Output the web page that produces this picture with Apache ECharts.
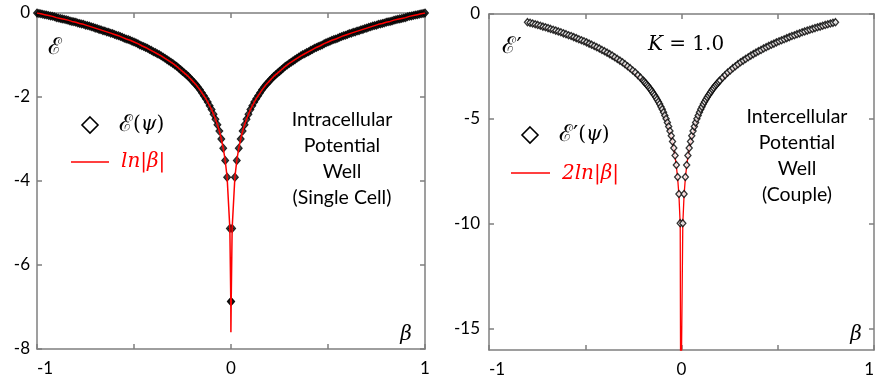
<!DOCTYPE html>
<html>
<head>
<meta charset="utf-8">
<script src="https://cdn.jsdelivr.net/npm/echarts@6/dist/echarts.min.js"></script>
<style>
  html, body { margin: 0; padding: 0; background: #fff; }
  #chart { width: 877px; height: 378px; }
</style>
</head>
<body>
<div id="chart"></div>
<script>
// ---- Single cell (intracellular well): positive half of the beta axis ----
const singleBeta = [0.00104, 0.0059, 0.02, 0.03, 0.04, 0.05, 0.06, 0.07, 0.08, 0.09, 0.10,
  0.11, 0.12, 0.13, 0.14, 0.15, 0.16, 0.17, 0.18, 0.19, 0.20,
  0.21, 0.22, 0.23, 0.24, 0.25, 0.26, 0.27, 0.28, 0.29, 0.30,
  0.31, 0.32, 0.33, 0.34, 0.35, 0.36, 0.37, 0.38, 0.39, 0.40,
  0.41, 0.42, 0.43, 0.44, 0.45, 0.46, 0.47, 0.48, 0.49, 0.50,
  0.51, 0.52, 0.53, 0.54, 0.55, 0.56, 0.57, 0.58, 0.59, 0.60,
  0.61, 0.62, 0.63, 0.64, 0.65, 0.66, 0.67, 0.68, 0.69, 0.70,
  0.71, 0.72, 0.73, 0.74, 0.75, 0.76, 0.77, 0.78, 0.79, 0.80,
  0.81, 0.82, 0.83, 0.84, 0.85, 0.86, 0.87, 0.88, 0.89, 0.90,
  0.91, 0.92, 0.93, 0.94, 0.95, 0.96, 0.97, 0.98, 0.99, 1.00];
// E(psi) for the single cell (coincides with ln|beta| at these points)
const singleEps = [-6.87, -5.13, -3.91, -3.51, -3.22, -3.00, -2.81, -2.66, -2.53, -2.41, -2.30,
  -2.21, -2.12, -2.04, -1.97, -1.90, -1.83, -1.77, -1.71, -1.66, -1.61,
  -1.56, -1.51, -1.47, -1.43, -1.39, -1.35, -1.31, -1.27, -1.24, -1.20,
  -1.17, -1.14, -1.11, -1.08, -1.05, -1.02, -0.99, -0.97, -0.94, -0.92,
  -0.89, -0.87, -0.84, -0.82, -0.80, -0.78, -0.76, -0.73, -0.71, -0.69,
  -0.67, -0.65, -0.63, -0.62, -0.60, -0.58, -0.56, -0.54, -0.53, -0.51,
  -0.49, -0.48, -0.46, -0.45, -0.43, -0.42, -0.40, -0.39, -0.37, -0.36,
  -0.34, -0.33, -0.31, -0.30, -0.29, -0.27, -0.26, -0.25, -0.24, -0.22,
  -0.21, -0.20, -0.19, -0.17, -0.16, -0.15, -0.14, -0.13, -0.12, -0.11,
  -0.09, -0.08, -0.07, -0.06, -0.05, -0.04, -0.03, -0.02, -0.01, 0];
// deepest point of the ln|beta| curve near beta = 0
const singleLnTip = [0.0005, -7.6];

// ---- Coupled cells (intercellular well): positive half of the beta axis ----
const coupleBeta = [0.0067, 0.0133, 0.02, 0.0267, 0.0333, 0.04, 0.0467, 0.0533, 0.06, 0.0667,
  0.0733, 0.08, 0.0867, 0.0933, 0.1, 0.1067, 0.1133, 0.12, 0.1267, 0.1333,
  0.14, 0.1467, 0.1533, 0.16, 0.1667, 0.1733, 0.18, 0.1867, 0.1933, 0.2,
  0.2133, 0.2267, 0.24, 0.2533, 0.2667, 0.28, 0.2933, 0.3067, 0.32, 0.3333,
  0.3467, 0.36, 0.3733, 0.3867, 0.4, 0.4133, 0.4267, 0.44, 0.4533, 0.4667,
  0.48, 0.4933, 0.5067, 0.52, 0.5333, 0.5467, 0.56, 0.5733, 0.5867, 0.6,
  0.6133, 0.6267, 0.64, 0.6533, 0.6667, 0.68, 0.6933, 0.7067, 0.72, 0.7333,
  0.7467, 0.76, 0.7733, 0.7867, 0.8];
// E'(psi) for the couple
const coupleEps = [-9.96, -8.57, -7.76, -7.19, -6.74, -6.38, -6.07, -5.80, -5.57, -5.36,
  -5.17, -4.99, -4.83, -4.68, -4.54, -4.42, -4.29, -4.18, -4.07, -3.97,
  -3.87, -3.78, -3.69, -3.60, -3.52, -3.44, -3.37, -3.30, -3.23, -3.16,
  -3.03, -2.91, -2.79, -2.69, -2.58, -2.49, -2.39, -2.30, -2.22, -2.14,
  -2.06, -1.98, -1.91, -1.84, -1.77, -1.71, -1.64, -1.58, -1.52, -1.46,
  -1.41, -1.35, -1.30, -1.25, -1.20, -1.15, -1.10, -1.05, -1.01, -0.96,
  -0.92, -0.87, -0.83, -0.79, -0.75, -0.71, -0.67, -0.63, -0.60, -0.56,
  -0.52, -0.49, -0.45, -0.42, -0.39];
// 2ln|beta| on the same beta points (up to 0.7733)
const coupleLn = [-10.02, -8.63, -7.82, -7.25, -6.80, -6.44, -6.13, -5.86, -5.63, -5.42,
  -5.23, -5.05, -4.89, -4.74, -4.60, -4.48, -4.35, -4.24, -4.13, -4.03,
  -3.93, -3.84, -3.75, -3.66, -3.58, -3.50, -3.43, -3.36, -3.29, -3.22,
  -3.09, -2.97, -2.85, -2.75, -2.64, -2.55, -2.45, -2.36, -2.28, -2.20,
  -2.12, -2.04, -1.97, -1.90, -1.83, -1.77, -1.70, -1.64, -1.58, -1.52,
  -1.47, -1.41, -1.36, -1.31, -1.26, -1.21, -1.16, -1.11, -1.07, -1.02,
  -0.98, -0.93, -0.89, -0.85, -0.81, -0.77, -0.73, -0.69, -0.66, -0.62,
  -0.58, -0.55, -0.51];
// the 2ln|beta| curve runs off the bottom of the axis near beta = 0
const coupleLnTip = [0.004, -20];

// Axis ticks and labels
const betaTicks = [-1, -0.5, 0, 0.5, 1];
const betaLabels = [-1, 0, 1];
const singleYTicks = [-8, -6, -4, -2, 0];
const coupleYTicks = [-15, -10, -5, 0];

// ---- helpers: mirror a positive half onto negative beta ----
function symmetricPairs(xs, ys, tip) {
  const n = ys.length;
  const neg = [], pos = [];
  for (let i = n - 1; i >= 0; i--) neg.push([-xs[i], ys[i]]);
  for (let i = 0; i < n; i++) pos.push([xs[i], ys[i]]);
  const mid = tip ? [[-tip[0], tip[1]], [tip[0], tip[1]]] : [];
  return neg.concat(mid, pos);
}

const GRAY = '#7f7f7f';
const LABEL_FONT = 'Lato';

function betaAxes(gridIndex, alignMax) {
  const common = {
    gridIndex, type: 'value', min: -1, max: 1,
    splitLine: { show: false },
    axisLine: { show: true, onZero: false, lineStyle: { color: GRAY, width: 1.5 } },
    axisTick: { show: true, inside: true, length: 5, customValues: betaTicks,
      lineStyle: { color: GRAY, width: 1.5 } }
  };
  return [
    Object.assign({}, common, {
      position: 'bottom',
      axisLabel: {
        customValues: betaLabels, color: '#000', fontFamily: LABEL_FONT, fontSize: 17,
        margin: 11, alignMinLabel: 'left', alignMaxLabel: alignMax
      }
    }),
    Object.assign({}, common, { position: 'top', axisLabel: { show: false } })
  ];
}

function epsAxes(gridIndex, min, ticks, margin) {
  const common = {
    gridIndex, type: 'value', min, max: 0,
    splitLine: { show: false },
    axisLine: { show: true, onZero: false, lineStyle: { color: GRAY, width: 1.5 } },
    axisTick: { show: true, inside: true, length: 5, customValues: ticks,
      lineStyle: { color: GRAY, width: 1.5 } }
  };
  return [
    Object.assign({}, common, {
      position: 'left',
      axisLabel: { customValues: ticks, color: '#000', fontFamily: LABEL_FONT, fontSize: 17, margin }
    }),
    Object.assign({}, common, { position: 'right', axisLabel: { show: false } })
  ];
}

const xAxes = betaAxes(0, 'center').concat(betaAxes(1, 'right'));
const yAxes = epsAxes(0, -8, singleYTicks, 7).concat(epsAxes(1, -16, coupleYTicks, 9));

const MATH = '"DejaVu Serif", "Liberation Serif", serif';

function txt(x, y, text, opts) {
  return {
    type: 'text', x, y, z: 10,
    style: Object.assign({ text, fill: '#000', font: '20px ' + MATH,
      align: 'center', verticalAlign: 'middle' }, opts || {})
  };
}
function diamondIcon(cx, cy, r) {
  return {
    type: 'polygon', z: 10,
    shape: { points: [[cx, cy - r], [cx + r, cy], [cx, cy + r], [cx - r, cy]] },
    style: { fill: '#fff', stroke: '#000', lineWidth: 1.6 }
  };
}
function lineIcon(x1, x2, y) {
  return { type: 'line', z: 10, shape: { x1, y1: y, x2, y2: y },
    style: { stroke: '#ff0000', lineWidth: 1.5 } };
}
const blockFont = '19.5px Lato';
const scriptRich = {
  s: { font: '23px ' + MATH },
  n: { font: '20px ' + MATH },
  i: { font: 'italic 20px ' + MATH }
};

const option = {
  animation: false,
  backgroundColor: '#fff',
  grid: [
    { left: 37, top: 13, width: 388, height: 336 },
    { left: 489, top: 14, width: 386, height: 338 }
  ],
  xAxis: xAxes,
  yAxis: yAxes,
  series: [
    {
      name: 'ℰ(ψ)', type: 'scatter', xAxisIndex: 0, yAxisIndex: 0, z: 2,
      symbol: 'diamond', symbolSize: [7, 8],
      itemStyle: { color: '#111', borderColor: '#000', borderWidth: 1 },
      data: symmetricPairs(singleBeta, singleEps, null)
    },
    {
      name: 'ln|β|', type: 'line', xAxisIndex: 0, yAxisIndex: 0, z: 3,
      symbol: 'none', lineStyle: { color: '#ff0000', width: 1.5 },
      data: symmetricPairs(singleBeta, singleEps, singleLnTip)
    },
    {
      name: '2ln|β|', type: 'line', xAxisIndex: 2, yAxisIndex: 2, z: 2,
      symbol: 'none', clip: true, lineStyle: { color: '#ff0000', width: 1.3 },
      data: symmetricPairs(coupleBeta, coupleLn, coupleLnTip)
    },
    {
      name: 'ℰ′(ψ)', type: 'scatter', xAxisIndex: 2, yAxisIndex: 2, z: 3,
      symbol: 'diamond', symbolSize: [6, 7],
      itemStyle: { color: '#fff', borderColor: '#000', borderWidth: 1.4 },
      data: symmetricPairs(coupleBeta, coupleEps, null)
    }
  ],
  graphic: [
    // single cell panel
    txt(55, 48, 'ℰ', { font: '23px ' + MATH }),
    txt(406, 335, 'β', { font: 'italic 20px ' + MATH }),
    diamondIcon(90, 125, 8),
    txt(119, 125, '{s|ℰ}{n|(}{i|ψ}{n|)}', { align: 'left', rich: scriptRich }),
    lineIcon(71, 109, 162),
    txt(121, 162, 'ln|β|', { align: 'left', fill: '#ff0000', font: 'italic 20px ' + MATH }),
    txt(342, 159, 'Intracellular\nPotential\nWell\n(Single Cell)', { font: blockFont, lineHeight: 26 }),
    // couple panel
    txt(512, 47, 'ℰ′', { font: '23px ' + MATH }),
    txt(686, 45, '{i|K} {n|= 1.0}', {
      rich: { i: { font: 'italic 20px ' + MATH }, n: { font: '20px ' + MATH } } }),
    txt(856, 335, 'β', { font: 'italic 20px ' + MATH }),
    diamondIcon(530, 135, 8),
    txt(559, 135, '{s|ℰ′}{n|(}{i|ψ}{n|)}', { align: 'left', rich: scriptRich }),
    lineIcon(511, 550, 173),
    txt(562, 174, '2ln|β|', { align: 'left', fill: '#ff0000', font: 'italic 20px ' + MATH }),
    txt(797, 156, 'Intercellular\nPotential\nWell\n(Couple)', { font: blockFont, lineHeight: 26 })
  ]
};

const chart = echarts.init(document.getElementById('chart'), null, { renderer: 'canvas' });
chart.setOption(option);
</script>
</body>
</html>
